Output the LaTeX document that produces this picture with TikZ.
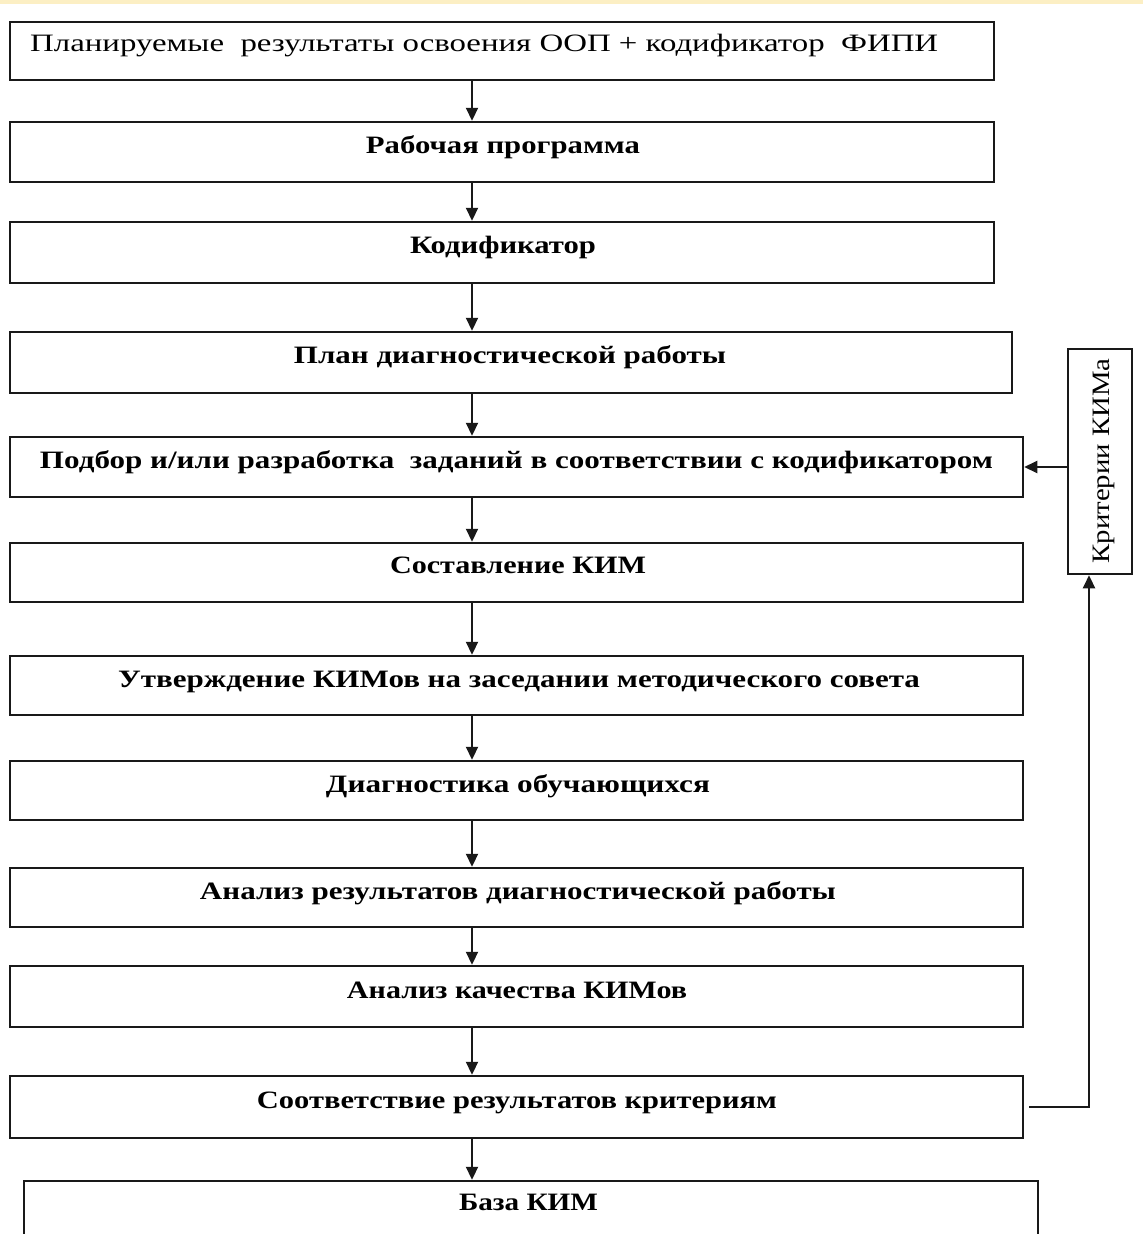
\documentclass[tikz,border=0pt]{standalone}
\usepackage{fontspec}
\setmainfont{Liberation Serif}
\usetikzlibrary{arrows.meta,fit}
\newcommand{\fw}[2]{\resizebox{#1pt}{\height}{#2}}
\definecolor{band}{RGB}{252,239,196}
\definecolor{ink}{RGB}{25,25,25}
\begin{document}
\begin{tikzpicture}[x=1pt,y=-1pt,
  box/.style={draw=ink, line width=2.5pt, rectangle, inner sep=0pt},
  lbl/.style={inner sep=0pt, anchor=base, text=black, font=\fontsize{25}{29}\selectfont\bfseries},
  lblr/.style={inner sep=0pt, text=black, font=\fontsize{25}{29}\selectfont},
  arr/.style={draw=ink, line width=2.2pt, -{Triangle[length=13pt,width=12pt]}}]
\useasboundingbox (0,0) rectangle (1143,1234);
\clip (0,0) rectangle (1143,1234);
\fill[band] (0,0) rectangle (1143,3.5);
% boxes
\node[box, fit={(10,22) (994,80)}] (b1) {};
\node[box, fit={(10,122) (994,182)}] (b2) {};
\node[box, fit={(10,222) (994,283)}] (b3) {};
\node[box, fit={(10,332) (1012,393)}] (b4) {};
\node[box, fit={(10,437) (1023,497)}] (b5) {};
\node[box, fit={(10,543) (1023,602)}] (b6) {};
\node[box, fit={(10,656) (1023,715)}] (b7) {};
\node[box, fit={(10,761) (1023,820)}] (b8) {};
\node[box, fit={(10,868) (1023,927)}] (b9) {};
\node[box, fit={(10,966) (1023,1027)}] (b10) {};
\node[box, fit={(10,1076) (1023,1138)}] (b11) {};
\node[box, fit={(24,1181) (1038,1270)}] (b12) {};
\node[box, fit={(1068,349) (1132,574)}] (side) {};
% texts
\node[lblr, anchor=base west] (t1) at (30,52) {\fw{908}{Планируемые\ \ результаты освоения ООП + кодификатор\ \ ФИПИ}};
\node[lbl] (t2) at (503,153) {\fw{274}{Рабочая программа}};
\node[lbl] (t3) at (503,253) {\fw{186}{Кодификатор}};
\node[lbl] (t4) at (510,363) {\fw{432}{План диагностической работы}};
\node[lbl] (t5) at (516.5,468) {\fw{953}{Подбор и/или разработка\ \ заданий в соответствии с кодификатором}};
\node[lbl] (t6) at (518,573) {\fw{256}{Составление КИМ}};
\node[lbl] (t7) at (519,687) {\fw{802}{Утверждение КИМов на заседании методического совета}};
\node[lbl] (t8) at (518,792) {\fw{384}{Диагностика обучающихся}};
\node[lbl] (t9) at (518,899) {\fw{636}{Анализ результатов диагностической работы}};
\node[lbl] (t10) at (517,998) {\fw{340}{Анализ качества КИМов}};
\node[lbl] (t11) at (517,1108) {\fw{520}{Соответствие результатов критериям}};
\node[lbl] (t12) at (528.5,1210) {\fw{139}{База КИМ}};
\node[lblr, rotate=90] (ts) at (1104,461) {\fw{205}{Критерии КИМа}};
% arrows
\coordinate (ax) at (472,0);
\coordinate (fx) at (1089,0);
\foreach \a/\b in {b1/b2,b2/b3,b3/b4,b4/b5,b5/b6,b6/b7,b7/b8,b8/b9,b9/b10,b10/b11,b11/b12}
  \draw[arr] (\a.south -| ax) -- (\b.north -| ax);
\draw[arr] (side.west |- b5.east) -- (b5.east);
\draw[arr] ([xshift=5pt]b11.east) -| (side.south -| fx);
\end{tikzpicture}
\end{document}
